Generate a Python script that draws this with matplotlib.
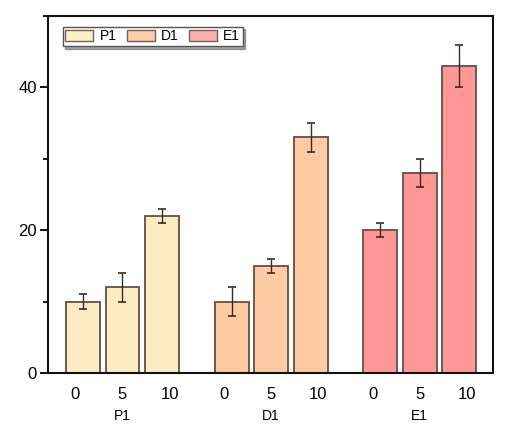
import matplotlib
matplotlib.use("Agg")
import matplotlib.pyplot as plt
from matplotlib.ticker import MultipleLocator
import numpy as np

plt.rcParams['font.family'] = ['Liberation Sans', 'DejaVu Sans']

groups = ["P1", "D1", "E1"]
doses = ["0", "5", "10"]
values = {
    "P1": [10, 12, 22],
    "D1": [10, 15, 33],
    "E1": [20, 28, 43],
}
errors = {
    "P1": [1, 2, 1],
    "D1": [2, 1, 2],
    "E1": [1, 2, 3],
}
bar_colors = {"P1": "#FDEBC3", "D1": "#FFCBA5", "E1": "#FF9797"}
legend_colors = {"P1": "#FFEDC6", "D1": "#FFCCAA", "E1": "#FFAEB0"}

group_step = 3.76
bar_width = 0.86
label_spread = 1.19

fig = plt.figure(figsize=(5.19, 4.28), dpi=100)
ax = fig.add_axes([48/519, 1-373/428, (493-48)/519, (373-16)/428])

handles = []
for g, name in enumerate(groups):
    xs = g*group_step + np.arange(len(doses))
    ax.bar(xs, values[name], width=bar_width, color=bar_colors[name],
           edgecolor="#5e5048", linewidth=1.3, zorder=2)
    ax.errorbar(xs, values[name], yerr=errors[name], fmt="none",
                ecolor="#3a2a22", elinewidth=1.0, capsize=2.6, capthick=1.2, zorder=3)
    handles.append(plt.Rectangle((0, 0), 1, 1, facecolor=legend_colors[name],
                                 edgecolor="#6e625c", linewidth=1.0))

ax.set_xlim(-0.886, -0.886 + 445/39.5)
ax.set_ylim(0, 50)

centers = [g*group_step + 1 for g in range(len(groups))]
tick_pos = [c + (i-1)*label_spread for c in centers for i in range(len(doses))]
ax.set_xticks(tick_pos)
ax.set_xticklabels(doses*len(groups), fontsize=12)
ax.tick_params(axis='x', length=0, pad=10)

for c, name in zip(centers, groups):
    ax.text(c, -0.12, name, transform=ax.get_xaxis_transform(),
            ha="center", va="center", fontsize=10)

ax.yaxis.set_major_locator(MultipleLocator(20))
ax.yaxis.set_minor_locator(MultipleLocator(10))
ax.set_yticks([0, 20, 40])
ax.tick_params(axis='y', which='major', direction='out', length=6, width=1.3,
               labelsize=12, pad=2)
ax.tick_params(axis='y', which='minor', direction='out', length=3.5, width=1.3)

for s in ax.spines.values():
    s.set_linewidth(1.5)
    s.set_color("#111111")

leg = ax.legend(handles, groups, loc="upper left", ncol=3,
                bbox_to_anchor=(0.033, 0.97), fontsize=10, frameon=True,
                fancybox=False, shadow=True, handlelength=2.0, handleheight=0.85,
                handletextpad=0.45, columnspacing=0.75, borderpad=0.2,
                borderaxespad=0.0)
leg.get_frame().set_edgecolor("#555555")
leg.get_frame().set_linewidth(1.0)

fig.savefig("out.png", dpi=100)
